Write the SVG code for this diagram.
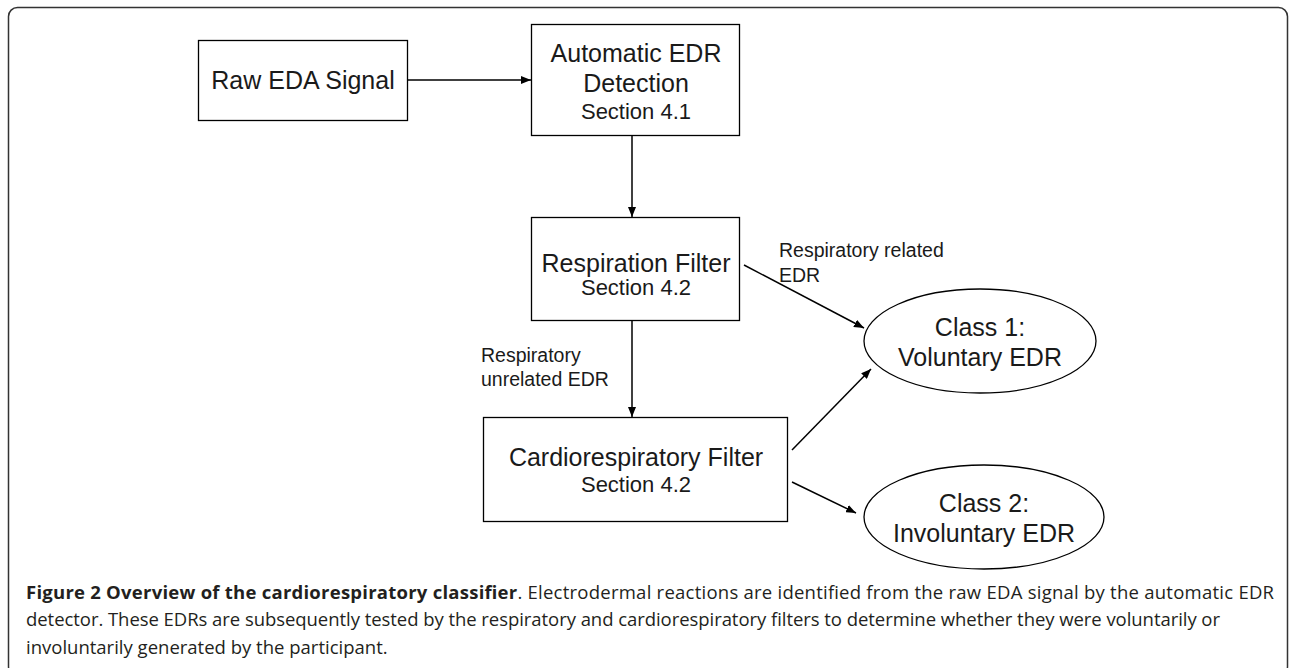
<svg xmlns="http://www.w3.org/2000/svg" width="1292" height="668" viewBox="0 0 1292 668">
<defs>
<marker id="ah" markerWidth="10" markerHeight="8" refX="10" refY="4" orient="auto" markerUnits="userSpaceOnUse">
<path d="M0,0 L10,4 L0,8 Z" fill="#000"/>
</marker>
<style>
.box{fill:#fff;stroke:#000;stroke-width:1.3}
.t{font-family:"Liberation Sans",Arial,sans-serif;fill:#1a1a1a;text-anchor:middle}
.big{font-size:25px}
.sm{font-size:22px}
.lbl{font-family:"Liberation Sans",Arial,sans-serif;font-size:19.5px;fill:#1a1a1a}
.edge{stroke:#000;stroke-width:1.5;fill:none;marker-end:url(#ah)}
.cap{font-family:"Open Sans",sans-serif;font-size:18.5px;fill:#231f20}
</style>
</defs>
<rect width="1292" height="668" fill="#fff"/>
<rect x="8.5" y="7.5" width="1279" height="668" rx="9" fill="none" stroke="#333" stroke-width="1.5"/>
<g id="connectors">
<line class="edge" x1="408" y1="80" x2="531" y2="80"/>
<line class="edge" x1="632" y1="136" x2="632" y2="217"/>
<line class="edge" x1="632" y1="321" x2="632" y2="417"/>
<line class="edge" x1="744" y1="265" x2="864" y2="328"/>
<line class="edge" x1="792" y1="450" x2="871" y2="369"/>
<line class="edge" x1="792" y1="482" x2="856" y2="513"/>
</g>
<g id="raw">
<rect class="box" x="198.5" y="40.5" width="209" height="80"/>
<text class="t big" x="303" y="89">Raw EDA Signal</text>
</g>
<g id="auto">
<rect class="box" x="531.5" y="24.5" width="208" height="111"/>
<text class="t big" x="636" y="62">Automatic EDR</text>
<text class="t big" x="636" y="92">Detection</text>
<text class="t sm" x="636" y="119">Section 4.1</text>
</g>
<g id="resp">
<rect class="box" x="531.5" y="217.5" width="208" height="103"/>
<text class="t big" x="636" y="272">Respiration Filter</text>
<text class="t sm" x="636" y="295">Section 4.2</text>
</g>
<g id="cardio">
<rect class="box" x="483.5" y="417.5" width="304" height="104"/>
<text class="t big" x="636" y="466">Cardiorespiratory Filter</text>
<text class="t sm" x="636" y="492">Section 4.2</text>
</g>
<g id="class1">
<ellipse class="box" cx="980" cy="341" rx="116" ry="52"/>
<text class="t big" x="980" y="336">Class 1:</text>
<text class="t big" x="980" y="366">Voluntary EDR</text>
</g>
<g id="class2">
<ellipse class="box" cx="984" cy="517" rx="120" ry="52"/>
<text class="t big" x="984" y="512">Class 2:</text>
<text class="t big" x="984" y="542">Involuntary EDR</text>
</g>
<g id="labels">
<text class="lbl" x="779" y="257">Respiratory related</text>
<text class="lbl" x="779" y="282">EDR</text>
<text class="lbl" x="481" y="362">Respiratory</text>
<text class="lbl" x="481" y="386">unrelated EDR</text>
</g>
<g id="caption">
<text class="cap" x="26" y="599" textLength="1248" lengthAdjust="spacing"><tspan font-weight="bold">Figure 2 Overview of the cardiorespiratory classifier</tspan>. Electrodermal reactions are identified from the raw EDA signal by the automatic EDR</text>
<text class="cap" x="26" y="626" textLength="1194" lengthAdjust="spacing">detector. These EDRs are subsequently tested by the respiratory and cardiorespiratory filters to determine whether they were voluntarily or</text>
<text class="cap" x="26" y="654">involuntarily generated by the participant.</text>
</g>
</svg>
